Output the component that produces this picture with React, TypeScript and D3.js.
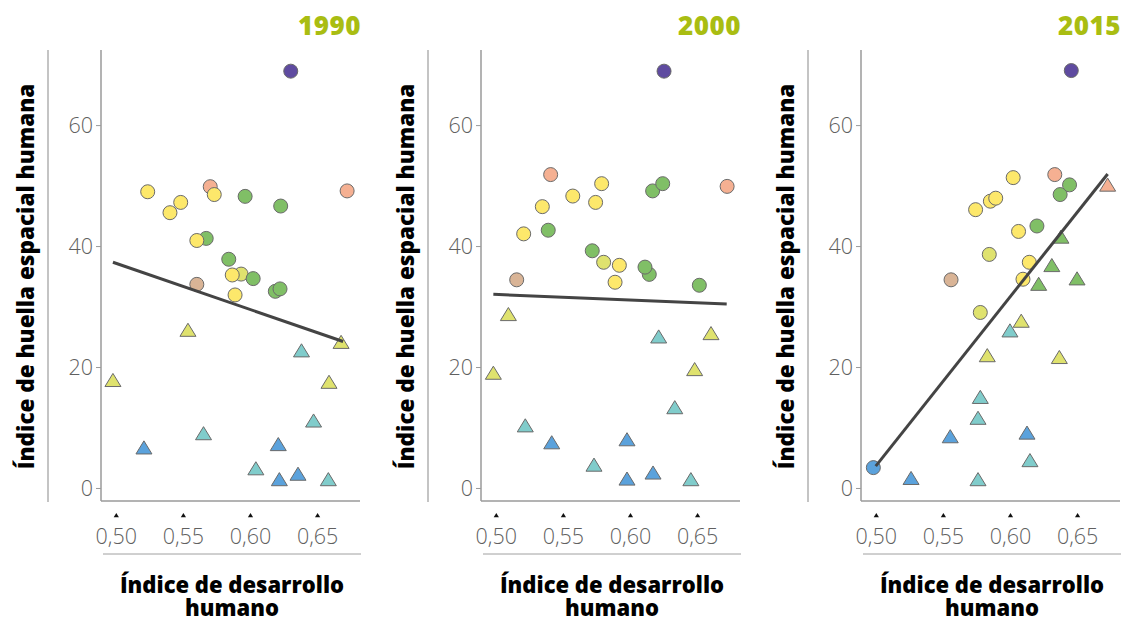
import React from "react";
import * as d3 from "d3";

const years = ["1990", "2000", "2015"];
const xTicks = [0.5, 0.55, 0.6, 0.65];
const yTicks = [0, 20, 40, 60];

const palette: Record<string, string> = {
  yellow: "#fde86b",
  lightYellow: "#dfe26e",
  green: "#80bf66",
  orange: "#f5b092",
  tan: "#d9b496",
  purple: "#5f4ba0",
  cyan: "#80cccb",
  blue: "#5ba2dc",
};

// [HDI, footprint, group]
const circles1990: [number, number, string][] = [
  [0.63, 69.0, "purple"],
  [0.570, 49.9, "orange"],
  [0.5234, 49.06, "yellow"],
  [0.54, 45.6, "yellow"],
  [0.548, 47.3, "yellow"],
  [0.573, 48.6, "yellow"],
  [0.596, 48.3, "green"],
  [0.6225, 46.7, "green"],
  [0.672, 49.2, "orange"],
  [0.567, 41.35, "green"],
  [0.56, 41.0, "yellow"],
  [0.5838, 37.9, "green"],
  [0.593, 35.45, "lightYellow"],
  [0.5864, 35.3, "yellow"],
  [0.602, 34.7, "green"],
  [0.56, 33.75, "tan"],
  [0.5885, 32.0, "yellow"],
  [0.6185, 32.6, "green"],
  [0.622, 33.0, "green"],
];
const triangles1990: [number, number, string][] = [
  [0.5534, 26.2, "lightYellow"],
  [0.6675, 24.2, "lightYellow"],
  [0.638, 22.8, "cyan"],
  [0.4975, 17.9, "lightYellow"],
  [0.6585, 17.6, "lightYellow"],
  [0.647, 11.2, "cyan"],
  [0.565, 9.1, "cyan"],
  [0.5206, 6.75, "blue"],
  [0.6207, 7.3, "blue"],
  [0.604, 3.3, "cyan"],
  [0.6215, 1.5, "blue"],
  [0.6354, 2.4, "blue"],
  [0.658, 1.5, "cyan"],
];
const trend1990: [number, number][] = [[0.4975, 37.4], [0.669, 24.3]];

const circles2000: [number, number, string][] = [
  [0.625, 69.0, "purple"],
  [0.5405, 51.9, "orange"],
  [0.5785, 50.4, "yellow"],
  [0.6165, 49.2, "green"],
  [0.624, 50.4, "green"],
  [0.672, 49.95, "orange"],
  [0.557, 48.35, "yellow"],
  [0.574, 47.3, "yellow"],
  [0.5343, 46.6, "yellow"],
  [0.5387, 42.7, "green"],
  [0.5204, 42.1, "yellow"],
  [0.5715, 39.3, "green"],
  [0.58, 37.4, "lightYellow"],
  [0.5917, 36.9, "yellow"],
  [0.614, 35.4, "green"],
  [0.6108, 36.6, "green"],
  [0.5152, 34.5, "tan"],
  [0.5885, 34.1, "yellow"],
  [0.6513, 33.6, "green"],
];
const triangles2000: [number, number, string][] = [
  [0.509, 28.8, "lightYellow"],
  [0.621, 25.1, "cyan"],
  [0.66, 25.65, "lightYellow"],
  [0.4978, 19.1, "lightYellow"],
  [0.6478, 19.7, "lightYellow"],
  [0.633, 13.4, "cyan"],
  [0.5216, 10.4, "cyan"],
  [0.5413, 7.6, "blue"],
  [0.5974, 8.1, "blue"],
  [0.5728, 3.9, "cyan"],
  [0.5974, 1.6, "blue"],
  [0.6168, 2.6, "blue"],
  [0.645, 1.5, "cyan"],
];
const trend2000: [number, number][] = [[0.4978, 32.1], [0.6717, 30.5]];

const circles2015: [number, number, string][] = [
  [0.6453, 69.1, "purple"],
  [0.633, 51.9, "orange"],
  [0.602, 51.4, "yellow"],
  [0.637, 48.6, "green"],
  [0.644, 50.2, "green"],
  [0.574, 46.1, "yellow"],
  [0.585, 47.5, "yellow"],
  [0.589, 48.0, "yellow"],
  [0.6197, 43.4, "green"],
  [0.606, 42.5, "yellow"],
  [0.5842, 38.7, "lightYellow"],
  [0.614, 37.4, "yellow"],
  [0.6093, 34.6, "yellow"],
  [0.5557, 34.5, "tan"],
  [0.5775, 29.1, "lightYellow"],
  [0.4978, 3.45, "blue"],
];
const triangles2015: [number, number, string][] = [
  [0.6724, 50.2, "orange"],
  [0.6376, 41.6, "green"],
  [0.6308, 36.9, "green"],
  [0.6496, 34.7, "green"],
  [0.621, 33.8, "green"],
  [0.608, 27.7, "lightYellow"],
  [0.5996, 26.1, "cyan"],
  [0.5827, 22.0, "lightYellow"],
  [0.6364, 21.7, "lightYellow"],
  [0.5775, 15.1, "cyan"],
  [0.5758, 11.65, "cyan"],
  [0.5551, 8.6, "blue"],
  [0.6123, 9.2, "blue"],
  [0.6145, 4.65, "cyan"],
  [0.5259, 1.7, "blue"],
  [0.5758, 1.5, "cyan"],
];
const trend2015: [number, number][] = [[0.4996, 3.7], [0.6724, 52.0]];

const panels = [
  { year: years[0], circles: circles1990, triangles: triangles1990, trend: trend1990 },
  { year: years[1], circles: circles2000, triangles: triangles2000, trend: trend2000 },
  { year: years[2], circles: circles2015, triangles: triangles2015, trend: trend2015 },
];

const FONT = "'Open Sans', 'DejaVu Sans', sans-serif";
const PANEL_W = 380;
const AX_L = 101;
const AX_R = 360;
const AX_T = 50;
const AX_B = 501;

const x = d3.scaleLinear().domain([0.4886, 0.6816]).range([AX_L, AX_R]);
const y = d3.scaleLinear().domain([-2.07, 72.5]).range([AX_B, AX_T]);

const triPath = "M0,-6.8L8,6.3L-8,6.3Z";

function Panel({ p, offset }: { p: (typeof panels)[number]; offset: number }) {
  const line = d3
    .line<[number, number]>()
    .x((d) => x(d[0]))
    .y((d) => y(d[1]));
  return (
    <g transform={`translate(${offset},0)`}>
      <text x={361} y={35} textAnchor="end" fontFamily={FONT} fontWeight={800} fontSize={26} fill="#a9bd12" letterSpacing={0.5}>
        {p.year}
      </text>
      {/* left separator */}
      <line x1={48} x2={48} y1={AX_T} y2={AX_B + 1} stroke="#c4c4c4" strokeWidth={2} />
      {/* y axis label */}
      <text
        transform={`translate(34,${276.5}) rotate(-90)`}
        textAnchor="middle"
        fontFamily={FONT}
        fontWeight={800}
        fontSize={22.5}
        fill="#000"
      >
        Índice de huella espacial humana
      </text>
      {/* axes */}
      <line x1={AX_L} x2={AX_L} y1={AX_T} y2={AX_B} stroke="#9a9a9a" strokeWidth={1.5} />
      <line x1={AX_L} x2={AX_R} y1={AX_B} y2={AX_B} stroke="#9a9a9a" strokeWidth={1.5} />
      {yTicks.map((t) => (
        <g key={t}>
          <line x1={AX_L - 5} x2={AX_L} y1={y(t)} y2={y(t)} stroke="#9a9a9a" strokeWidth={1} />
          <text x={AX_L - 8} y={y(t)} dy="0.35em" textAnchor="end" fontFamily={FONT} fontWeight={300} fontSize={21.5} fill="#606060">
            {String(t)}
          </text>
        </g>
      ))}
      {xTicks.map((t) => (
        <g key={t}>
          <path d={`M${x(t)},${513}l2.6,4.2l-5.2,0Z`} fill="#111" />
          <text x={x(t)} y={536} dy="0.35em" textAnchor="middle" fontFamily={FONT} fontWeight={300} fontSize={21.5} fill="#606060">
            {d3.format(".2f")(t).replace(".", ",")}
          </text>
        </g>
      ))}
      <line x1={103} x2={361} y1={554} y2={554} stroke="#a0a0a0" strokeWidth={1} />
      <text x={232} y={593} textAnchor="middle" fontFamily={FONT} fontWeight={800} fontSize={22} fill="#000">
        Índice de desarrollo
      </text>
      <text x={232} y={616} textAnchor="middle" fontFamily={FONT} fontWeight={800} fontSize={22} fill="#000">
        humano
      </text>
      {/* points */}
      {p.circles.map((d, i) => (
        <circle key={"c" + i} cx={x(d[0])} cy={y(d[1])} r={7} fill={palette[d[2]]} stroke="#6a6a6a" strokeWidth={1} />
      ))}
      {p.triangles.map((d, i) => (
        <path
          key={"t" + i}
          d={triPath}
          transform={`translate(${x(d[0])},${y(d[1])})`}
          fill={palette[d[2]]}
          stroke="#6a6a6a"
          strokeWidth={1}
        />
      ))}
      <path d={line(p.trend) || ""} fill="none" stroke="#444" strokeWidth={3} />
    </g>
  );
}

export default function App() {
  return (
    <svg
      width={1123}
      height={622}
      style={{ position: "absolute", left: 0, top: 0, background: "#fff" }}
    >
      {panels.map((p, i) => (
        <Panel key={p.year} p={p} offset={i * PANEL_W} />
      ))}
    </svg>
  );
}
